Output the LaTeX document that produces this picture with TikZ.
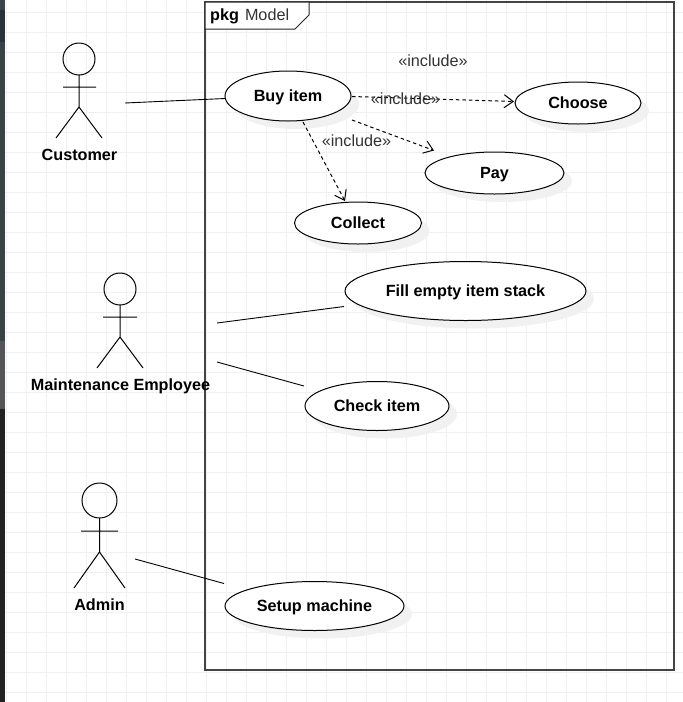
\documentclass[tikz,border=0pt]{standalone}
\usepackage{fontspec}
\setmainfont{Liberation Sans}
\usetikzlibrary{arrows.meta}
\definecolor{gridc}{HTML}{F0F0F0}
\definecolor{shadowc}{HTML}{F1F1F1}
\definecolor{framec}{HTML}{444444}
\definecolor{textc}{HTML}{333333}
\definecolor{stripa}{HTML}{3C4346}
\definecolor{stripb}{HTML}{2A3238}
\definecolor{stripc}{HTML}{3A4245}
\definecolor{stripd}{HTML}{545556}
\definecolor{stripe}{HTML}{222222}
\tikzset{
  x=1pt,y=-1pt,
  usecase/.style={font=\fontsize{16.2}{18}\selectfont\bfseries,text=black,anchor=base,inner sep=0pt},
  ucshape/.style={draw=black,line width=1pt,fill=white},
  ushadow/.style={fill=shadowc,draw=none},
  stick/.style={draw=black,line width=1pt},
  assoc/.style={draw=black,line width=.9pt},
  incl/.style={draw=black,line width=1pt,dash pattern=on 3.5pt off 3pt,-{Straight Barb[length=9pt,width=13pt,line width=1pt]}},
  incltext/.style={font=\fontsize{16.2}{18}\selectfont,text=textc},
  actorlabel/.style={font=\fontsize{16.2}{18}\selectfont\bfseries,text=black,anchor=base,inner sep=0pt},
}
\newcommand{\ucase}[6]{% name, cx, cy, rx, ry, text
  \fill[ushadow] (#2+8,#3+8) ellipse [x radius=#4,y radius=#5];
  \draw[ucshape] (#2,#3) ellipse [x radius=#4,y radius=#5];
  \node[usecase] (#1) at (#2,#3+5.5) {#6};
}
\begin{document}
\begin{tikzpicture}
\useasboundingbox (0,0) rectangle (683,702);
\fill[white] (0,0) rectangle (683,702);
\foreach \i in {0,...,34} \draw[gridc,line width=1pt] (6+20*\i,0) -- (6+20*\i,702);
\foreach \i in {0,...,34} \draw[gridc,line width=1pt] (0,12.7+20*\i) -- (683,12.7+20*\i);
\fill[stripa] (0,0) rectangle (5,10);
\fill[stripb] (0,10) rectangle (5,42);
\fill[stripc] (0,42) rectangle (5,341);
\fill[stripd] (0,341) rectangle (5,409);
\fill[stripe] (0,409) rectangle (5,702);
\draw[framec,line width=1.2pt] (205,2) rectangle (674,670);
\draw[black!85,line width=1pt,fill=white] (205,2) -- (309,2) -- (309,15) -- (295,29) -- (205,29) -- cycle;
\node[anchor=base west,inner sep=0pt,font=\fontsize{16.2}{18}\selectfont] (pkg) at (210,20) {\textbf{pkg}\hspace{6pt}\textcolor{textc}{Model}};

\ucase{buy}{288}{96}{63}{25}{Buy item}
\ucase{choose}{578}{103}{63}{21}{Choose}
\ucase{pay}{494.5}{173}{69.5}{21}{Pay}
\ucase{collect}{358}{223}{63.5}{21}{Collect}
\ucase{fill}{465.5}{291}{120.5}{29.5}{Fill empty item stack}
\ucase{check}{377}{406}{72}{24.5}{Check item}
\ucase{setup}{314.5}{606}{89.5}{24.5}{Setup machine}

% Customer
\draw[stick] (79,59) circle [radius=16];
\draw[stick] (79,75) -- (79,107) (63,87) -- (96,87) (79,107) -- (56,138) (79,107) -- (102,138);
% Maintenance Employee
\draw[stick] (120,289) circle [radius=16];
\draw[stick] (120,305) -- (120,337) (103,317) -- (137,317) (120,337) -- (97,368) (120,337) -- (143,368);
% Admin
\draw[stick] (99.5,500.5) circle [radius=17.5];
\draw[stick] (99.5,518) -- (99.5,552) (81,531) -- (118,531) (99.5,552) -- (74,588) (99.5,552) -- (125,588);

\node[actorlabel] (lcustomer) at (79.5,160) {Customer};
\node[actorlabel] (lmaint) at (120.5,390) {Maintenance Employee};
\node[actorlabel] (ladmin) at (99.5,610) {Admin};

\coordinate (acust) at (125,103);
\coordinate (buyw) at (225,98.5);
\coordinate (amaint1) at (217,323);
\coordinate (amaint2) at (217,362);
\coordinate (aadmin) at (135,559);
\coordinate (fillw) at (344,306.5);
\coordinate (checkw) at (304,386);
\coordinate (setupw) at (224,583.5);
\draw[assoc] (acust) -- (buyw);
\draw[assoc] (amaint1) -- (fillw);
\draw[assoc] (amaint2) -- (checkw);
\draw[assoc] (aadmin) -- (setupw);

\coordinate (b1) at (352,96.5);
\coordinate (b2) at (352,120);
\coordinate (b3) at (303,122);
\coordinate (chooset) at (514,101.5);
\coordinate (payt) at (434,150.5);
\coordinate (collt) at (345,201);
\draw[incl] (b1) -- (chooset);
\draw[incl] (b2) -- (payt);
\draw[incl] (b3) -- (collt);
\node[incltext] (t1) at (433,60.5) {«include»};
\node[incltext] (t2) at (405.5,98.5) {«include»};
\node[incltext] (t3) at (356.5,140.5) {«include»};
\end{tikzpicture}
\end{document}
